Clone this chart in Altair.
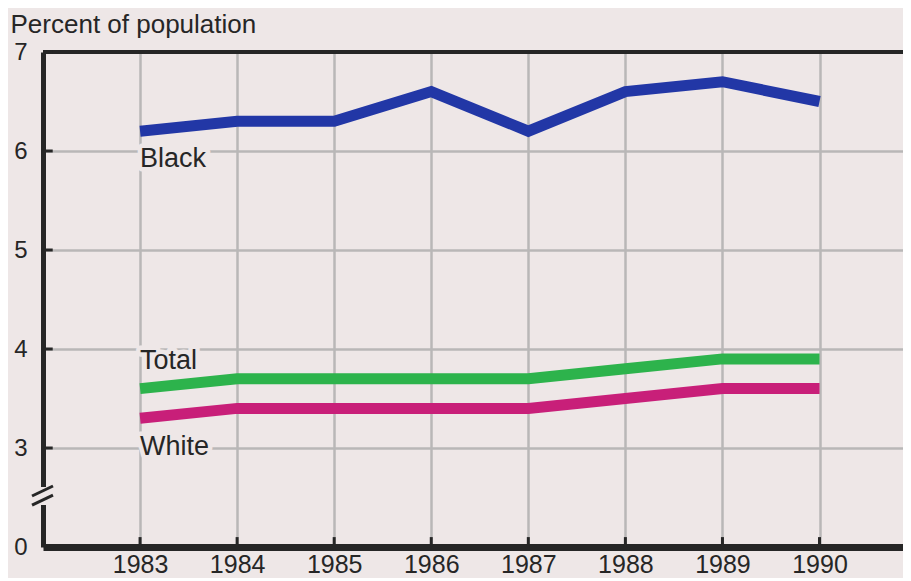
import altair as alt
import pandas as pd

# ---- data ----
years = [1983, 1984, 1985, 1986, 1987, 1988, 1989, 1990]
black = [6.2, 6.3, 6.3, 6.6, 6.2, 6.6, 6.7, 6.5]
total = [3.6, 3.7, 3.7, 3.7, 3.7, 3.8, 3.9, 3.9]
white = [3.3, 3.4, 3.4, 3.4, 3.4, 3.5, 3.6, 3.6]
series_names = ["Black", "Total", "White"]
series_colors = ["#2237a6", "#2db34c", "#c81f79"]
y_tick_values = [2, 3, 4, 5, 6, 7]          # 2 is drawn as the broken-axis "0"
label_names = ["Black", "Total", "White"]
label_x = [1983, 1983, 1983]
label_y = [5.84, 3.80, 2.93]
label_dx = [-4, -5, -1]

BG = "#eee7e7"
INK = "#262626"
FONT = "Liberation Sans"
X_MIN, X_MAX = 1982, 1990.86
Y_MIN, Y_MAX = 2, 7

rows = []
for name, vals in zip(series_names, [black, total, white]):
    for yr, v in zip(years, vals):
        rows.append({"year": yr, "value": v, "series": name})
df = pd.DataFrame(rows)

lab_df = pd.DataFrame({"name": label_names, "x": label_x, "y": label_y, "dx": label_dx})

xs = alt.Scale(domain=[X_MIN, X_MAX], nice=False, zero=False)
ys = alt.Scale(domain=[Y_MIN, Y_MAX], nice=False, zero=False)

x_axis = alt.Axis(values=years, format="d", grid=True, gridColor="#b9b7b7", gridWidth=2.5,
                  domain=True, domainColor=INK, domainWidth=7, ticks=False, tickSize=0,
                  labelFont=FONT, labelFontSize=25, labelColor=INK, labelPadding=5,
                  labelFlush=False, title=None)
y_axis = alt.Axis(values=y_tick_values, grid=True, gridColor="#b9b7b7", gridWidth=2.5,
                  domain=True, domainColor=INK, domainWidth=5, ticks=False, tickSize=0,
                  labelFont=FONT, labelFontSize=24, labelColor=INK, labelPadding=16,
                  labelFlush=False,
                  labelExpr="datum.value == 2 ? '0' : datum.label",
                  title="Percent of population", titleAngle=0, titleAlign="left",
                  titleBaseline="alphabetic", titleX=-33, titleY=-20,
                  titleFont=FONT, titleFontSize=26, titleFontWeight="normal", titleColor=INK)


def X(field="x"):
    return alt.X(f"{field}:Q", scale=xs, axis=x_axis)


def Y(field="y"):
    return alt.Y(f"{field}:Q", scale=ys, axis=y_axis)


lines = alt.Chart(df).mark_line(strokeWidth=11, strokeCap="butt", strokeJoin="miter").encode(
    x=X("year"), y=Y("value"),
    color=alt.Color("series:N", scale=alt.Scale(domain=series_names, range=series_colors), legend=None),
    detail="series:N",
)

# top frame line
top = alt.Chart(pd.DataFrame({"x": [X_MIN], "x2": [X_MAX], "y": [Y_MAX]})).mark_rule(
    color=INK, strokeWidth=4).encode(x=X("x"), x2="x2", y=Y("y"))

# inward ticks
yt = alt.Chart(pd.DataFrame({"x": [X_MIN] * 5, "x2": [X_MIN + 0.1] * 5, "y": [3, 4, 5, 6, 7]})).mark_rule(
    color=INK, strokeWidth=3).encode(x=X("x"), x2="x2", y=Y("y"))
xt = alt.Chart(pd.DataFrame({"x": years, "y": [Y_MIN] * 8, "y2": [Y_MIN + 0.1] * 8})).mark_rule(
    color=INK, strokeWidth=3).encode(x=X("x"), y=Y("y"), y2="y2")

# axis break: gap and two slashes
gap = alt.Chart(pd.DataFrame({"x": [X_MIN], "y": [2.424], "y2": [2.606]})).mark_rule(
    color=BG, strokeWidth=9).encode(x=X("x"), y=Y("y"), y2="y2")
slashes = alt.Chart(pd.DataFrame({"x": [1981.887, 1981.887], "x2": [1982.103, 1982.103],
                                  "y": [2.515, 2.424], "y2": [2.616, 2.525]})).mark_rule(
    color=INK, strokeWidth=3).encode(x=X("x"), x2="x2", y=Y("y"), y2="y2")

halo = alt.Chart(lab_df).mark_text(font=FONT, fontSize=27, align="left", baseline="alphabetic",
                                   fill=BG, stroke=BG, strokeWidth=9, strokeJoin="round").encode(
    x=X("x"), y=Y("y"), text="name:N", xOffset="dx:Q")
labels = alt.Chart(lab_df).mark_text(font=FONT, fontSize=27, align="left", baseline="alphabetic",
                                     color=INK).encode(
    x=X("x"), y=Y("y"), text="name:N", xOffset="dx:Q")

chart = alt.layer(top, yt, xt, halo, labels, lines, gap, slashes).properties(
    width=860, height=495,
    autosize=alt.AutoSizeParams(type="none"),
    padding={"left": 35, "top": 44, "right": 0, "bottom": 31},
    background=BG,
).configure_view(stroke=None)

chart.save("out.html", embed_options={"renderer": "svg", "actions": False})
